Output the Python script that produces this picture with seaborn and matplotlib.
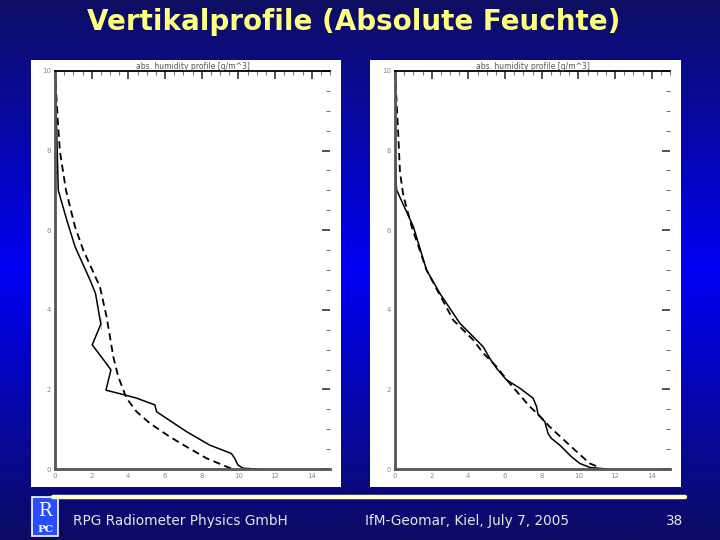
import matplotlib
matplotlib.use('Agg')
import matplotlib.pyplot as plt
import numpy as np
import pandas as pd
import seaborn as sns
from matplotlib.colors import LinearSegmentedColormap
from matplotlib.patches import Rectangle
from matplotlib.ticker import MultipleLocator

TITEL = 'Vertikalprofile (Absolute Feuchte)'
TITEL_PANEL = 'abs. humidity profile [g/m^3]'
FUSS_LINKS = 'RPG Radiometer Physics GmbH'
FUSS_MITTE = 'IfM-Geomar, Kiel, July 7, 2005'
SEITE = '38'

# linkes Panel
links_solid_y = [10, 9, 8, 7.0, 6.26, 5.59, 4.75, 4.41, 3.79, 3.49, 3.12, 2.70, 2.49,
                 1.98, 1.86, 1.78, 1.61, 1.44, 1.16, 0.94, 0.60, 0.39, 0.27, 0.10, 0.02, 0.0]
links_solid_x = [0.02, 0.06, 0.12, 0.18, 0.64, 1.09, 1.91, 2.21, 2.5, 2.5, 2.03, 2.72, 3.05,
                 2.78, 3.81, 4.45, 5.45, 5.54, 6.45, 7.17, 8.44, 9.62, 9.8, 9.98, 10.26, 11.0]
links_dash_y = [10, 9.57, 8.56, 7.97, 7.0, 6.09, 5.5, 4.58, 3.83, 3.32, 2.82, 2.32, 1.78,
                1.44, 1.15, 0.81, 0.56, 0.27, 0.06, 0.0]
links_dash_x = [0.0, 0.05, 0.18, 0.27, 0.6, 1.09, 1.54, 2.45, 2.81, 3.0, 3.18, 3.45, 3.9,
                4.45, 5.17, 6.26, 7.17, 8.26, 9.35, 9.7]

# rechtes Panel
rechts_solid_y = [10, 8, 7.3, 7.01, 6.09, 5.0, 4.41, 3.66, 3.24, 3.07, 2.78, 2.53, 2.24,
                  2.03, 1.78, 1.57, 1.36, 1.19, 0.89, 0.77, 0.6, 0.31, 0.14, 0.04, 0.0]
rechts_solid_x = [0.0, 0.02, 0.04, 0.09, 1.0, 1.72, 2.45, 3.54, 4.45, 4.81, 5.17, 5.54, 6.08,
                  6.81, 7.53, 7.72, 7.81, 8.17, 8.35, 8.53, 8.99, 9.62, 10.08, 10.62, 11.53]
rechts_dash_y = [10, 9.57, 8.39, 7.47, 6.88, 6.09, 5.0, 3.74, 3.24, 2.91, 2.57, 2.15, 1.57,
                 1.33, 1.06, 0.52, 0.14, 0.03]
rechts_dash_x = [0.0, 0.05, 0.18, 0.27, 0.45, 0.91, 1.72, 3.18, 4.27, 4.81, 5.54, 6.26, 7.35,
                 7.9, 8.44, 9.71, 10.62, 11.2]

W, H = 720, 540


def px_rect(x0, y0, x1, y1):
    return [x0 / W, 1 - y1 / H, (x1 - x0) / W, (y1 - y0) / H]


def profil_achse(fig, pos, solid_x, solid_y, dash_x, dash_y):
    ax = fig.add_axes(pos)
    ax.set_facecolor('white')
    df_s = pd.DataFrame({'x': solid_x, 'y': solid_y})
    df_d = pd.DataFrame({'x': dash_x, 'y': dash_y})
    sns.lineplot(data=df_s, x='x', y='y', sort=False, ax=ax, color='black', lw=1.1)
    sns.lineplot(data=df_d, x='x', y='y', sort=False, ax=ax, color='black', lw=1.3,
                 dashes=False, linestyle=(0, (4, 2.5)))
    ax.set_xlim(0, 15)
    ax.set_ylim(0, 10)
    ax.set_xlabel('')
    ax.set_ylabel('')
    ax.xaxis.set_major_locator(MultipleLocator(2))
    ax.xaxis.set_minor_locator(MultipleLocator(0.5))
    ax.yaxis.set_major_locator(MultipleLocator(2))
    ax.yaxis.set_minor_locator(MultipleLocator(0.5))
    ax.tick_params(which='both', direction='in', top=True, right=True,
                   labelsize=5, labelcolor='#8a8a8a', pad=3)
    ax.tick_params(which='major', length=6, width=1.2, color='#333333')
    ax.tick_params(which='minor', length=3, width=0.8, color='#777777')
    for s in ['left', 'bottom']:
        ax.spines[s].set_color('#555555')
        ax.spines[s].set_linewidth(2)
    ax.spines['top'].set_color('black')
    ax.spines['top'].set_linewidth(1.3)
    ax.spines['right'].set_visible(False)
    ax.set_title(TITEL_PANEL, fontsize=5.5, color='#555555', pad=1.5)
    return ax


def main():
    sns.set_style('white')
    fig = plt.figure(figsize=(7.2, 5.4), dpi=100)

    # Hintergrund-Verlauf
    ax_bg = fig.add_axes([0, 0, 1, 1], zorder=-10)
    cmap = LinearSegmentedColormap.from_list(
        'folie', [(0, '#0e0e62'), (0.5, '#0000f5'), (1, '#0c0c62')])
    verlauf = np.linspace(0, 1, 256).reshape(-1, 1)
    ax_bg.imshow(verlauf, aspect='auto', cmap=cmap, extent=[0, 1, 0, 1], origin='upper')
    ax_bg.set_axis_off()

    # weisse Panels
    for x0, x1 in [(31, 341), (370, 681)]:
        r = px_rect(x0, 60, x1, 487)
        fig.patches.append(Rectangle((r[0], r[1]), r[2], r[3], transform=fig.transFigure,
                                     facecolor='white', edgecolor='none', zorder=-5))

    profil_achse(fig, px_rect(55, 71, 330, 469),
                 links_solid_x, links_solid_y, links_dash_x, links_dash_y)
    profil_achse(fig, px_rect(395, 71, 670, 469),
                 rechts_solid_x, rechts_solid_y, rechts_dash_x, rechts_dash_y)

    fig.text(354 / W, 1 - 22 / H, TITEL, ha='center', va='center', color='#ffff80',
             fontsize=20, fontweight='bold')

    # Fusszeile
    fig.add_artist(plt.Line2D([53 / W, 685 / W], [1 - 497 / H] * 2, color='#ffffcc', lw=3.2))
    fig.text(73 / W, 1 - 521 / H, FUSS_LINKS, ha='left', va='center', color='#e6e6e6', fontsize=9.8)
    fig.text(365 / W, 1 - 521 / H, FUSS_MITTE, ha='left', va='center', color='#e6e6e6', fontsize=9.8)
    fig.text(683 / W, 1 - 521 / H, SEITE, ha='right', va='center', color='#e6e6e6', fontsize=9.8)

    # Logo
    r = px_rect(32, 497, 58, 536)
    fig.patches.append(Rectangle((r[0], r[1]), r[2], r[3], transform=fig.transFigure,
                                 facecolor='#2a4cff', edgecolor='white', lw=1.2))
    fig.text(45 / W, 1 - 511 / H, 'R', ha='center', va='center', color='white',
             fontsize=13, fontfamily='DejaVu Serif')
    fig.text(45 / W, 1 - 529 / H, 'PC', ha='center', va='center', color='white',
             fontsize=7.5, fontweight='bold', fontfamily='DejaVu Serif')

    fig.savefig('out.png', dpi=100)
    plt.close(fig)


if __name__ == '__main__':
    main()
